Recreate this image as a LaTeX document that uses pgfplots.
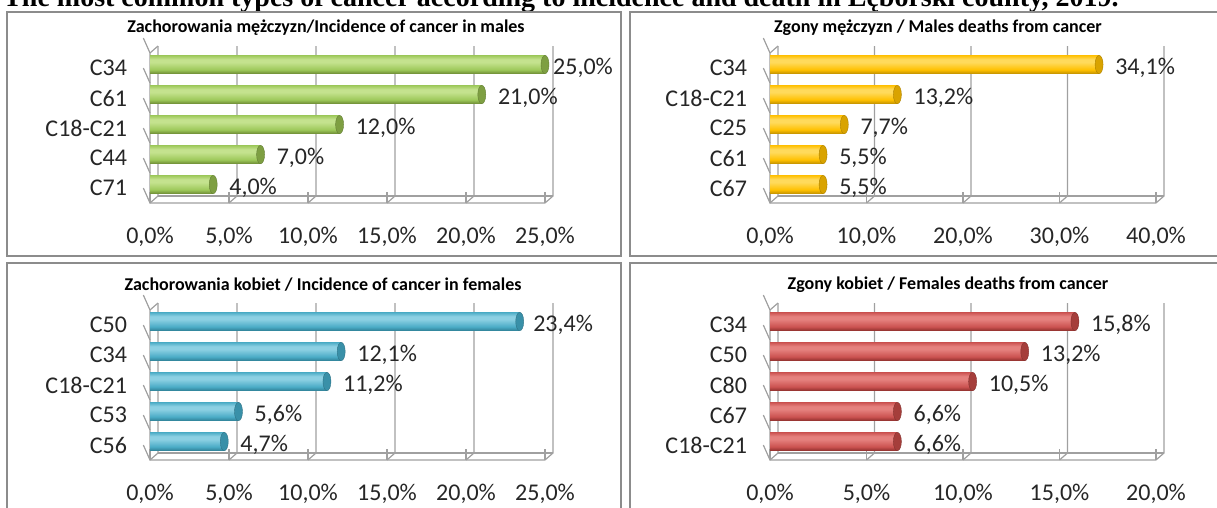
\documentclass[border=0pt]{standalone}
\usepackage{fontspec}
\setmainfont{Carlito}
\newfontfamily\titlefont{Liberation Serif}
\usepackage{pgfplots}
\pgfplotsset{compat=1.18}

\definecolor{gDark}{HTML}{6C8A34}
\definecolor{gBase}{HTML}{9DC85A}
\definecolor{gLight}{HTML}{C4E28E}
\definecolor{gCap}{HTML}{7E9F42}
\definecolor{yDark}{HTML}{C08F00}
\definecolor{yBase}{HTML}{FFC000}
\definecolor{yLight}{HTML}{FFDA5C}
\definecolor{yCap}{HTML}{D9A300}
\definecolor{bDark}{HTML}{2E7F95}
\definecolor{bBase}{HTML}{4BACC6}
\definecolor{bLight}{HTML}{8CD0E3}
\definecolor{bCap}{HTML}{3990A8}
\definecolor{rDark}{HTML}{8E2F2C}
\definecolor{rBase}{HTML}{CB5250}
\definecolor{rLight}{HTML}{E5817E}
\definecolor{rCap}{HTML}{A53E3B}
\definecolor{gridc}{HTML}{A0A0A0}
\definecolor{framec}{HTML}{8C8C8C}

\pgfdeclareverticalshading{cylG}{100bp}{color(0bp)=(gDark); color(25bp)=(gDark); color(36bp)=(gBase); color(56bp)=(gLight); color(64bp)=(gLight); color(75bp)=(gBase); color(100bp)=(gBase)}
\pgfdeclareverticalshading{cylY}{100bp}{color(0bp)=(yDark); color(25bp)=(yDark); color(36bp)=(yBase); color(56bp)=(yLight); color(64bp)=(yLight); color(75bp)=(yBase); color(100bp)=(yBase)}
\pgfdeclareverticalshading{cylB}{100bp}{color(0bp)=(bDark); color(25bp)=(bDark); color(36bp)=(bBase); color(56bp)=(bLight); color(64bp)=(bLight); color(75bp)=(bBase); color(100bp)=(bBase)}
\pgfdeclareverticalshading{cylR}{100bp}{color(0bp)=(rDark); color(25bp)=(rDark); color(36bp)=(rBase); color(56bp)=(rLight); color(64bp)=(rLight); color(75bp)=(rBase); color(100bp)=(rBase)}

\pgfdeclareplotmark{cap}{%
  \pgfpathellipse{\pgfqpoint{0pt}{2.6pt}}{\pgfqpoint{3pt}{0pt}}{\pgfqpoint{0pt}{6.9pt}}%
  \pgfusepathqfillstroke}

\newcommand\deco[2]{%
  \pgfplotsinvokeforeach{0,#2,...,#1}{%
    \draw[gridc,line width=0.9pt] (axis cs:##1,-0.5) -- ++(0,-3pt);
    \draw[gridc,line width=0.9pt] (axis cs:##1,-0.5) -- ([shift={(6pt,5.25pt)}]axis cs:##1,-0.5) -- ([shift={(6pt,5.25pt)}]axis cs:##1,4.5);
  }
  \draw[gridc,line width=0.9pt] ([shift={(6pt,5.25pt)}]axis cs:0,-0.5) -- ([shift={(6pt,5.25pt)}]axis cs:#1,-0.5);
  \draw[gridc,line width=0.9pt] ([shift={(6pt,5.25pt)}]axis cs:0,4.5) -- (axis cs:0,4.5) -- (axis cs:0,-0.5) -- (axis cs:#1,-0.5);
  \pgfplotsinvokeforeach{-0.5,0.5,...,4.5}{\draw[gridc,line width=0.9pt] (axis cs:0,##1) -- ++(-5pt,0);}
}

\pgfplotsset{
  panel/.style={
    scale only axis, height=112.5pt, anchor=south west, clip=false,
    xmin=0, ymin=-0.5, ymax=4.5, ytick={0,1,2,3,4},
    axis line style={draw=none}, tick style={draw=none}, major tick length=0pt,
    /pgf/number format/assume math mode=true,
    tick label style={font=\fontsize{18}{18}\selectfont, text=black!85},
    xticklabel={\pgfmathprintnumber[fixed,fixed zerofill,precision=1,use comma]{\tick}\%},
    xticklabel style={anchor=center, yshift=-25.5pt},
    yticklabel style={anchor=east, inner sep=0pt, xshift=-17pt},
  },
  bars/.style={xbar, bar width=13.9pt, bar shift=2.6pt, draw=none, shade, shading=#1},
  caps/.style={only marks, mark=cap, mark options={fill=#1, draw=#1!80!black, line width=0.3pt},
    point meta=x,
    visualization depends on={\thisrow{off} \as \off},
    nodes near coords={\pgfmathprintnumber[fixed,fixed zerofill,precision=1,use comma]{\pgfplotspointmeta}\%},
    every node near coord/.append style={anchor=west, inner sep=0pt, xshift=\off pt,
      font=\fontsize{18}{18}\selectfont, text=black!85}},
}

\begin{document}
\begin{tikzpicture}[x=0.75pt,y=0.75pt]
\useasboundingbox (0,0) rectangle (1217,507);
\clip (0,0) rectangle (1217,507);

% main title
\node[anchor=base west, inner sep=0pt, font=\titlefont\bfseries\fontsize{21}{21}\selectfont] at (3,500) {The most common types of cancer according to incidence and death in Lęborski county, 2019.};

% panel frames
\draw[framec, line width=1.8pt] (7,495) rectangle (621,251);
\draw[framec, line width=1.8pt] (630,495) rectangle (1230,251);
\draw[framec, line width=1.8pt] (7,244) rectangle (621,-20);
\draw[framec, line width=1.8pt] (630,244) rectangle (1230,-20);

% panel titles
\node[font=\bfseries\fontsize{13.5}{13.5}\selectfont] at (326,479) {Zachorowania mężczyzn/Incidence of cancer in males};
\node[font=\bfseries\fontsize{13.5}{13.5}\selectfont] at (938,479) {Zgony mężczyzn / Males deaths from cancer};
\node[font=\bfseries\fontsize{13.5}{13.5}\selectfont] at (323,222) {Zachorowania kobiet / Incidence of cancer in females};
\node[font=\bfseries\fontsize{13.5}{13.5}\selectfont] at (948,222) {Zgony kobiet / Females deaths from cancer};

% top-left
\begin{axis}[panel, at={(112.5pt,228pt)}, width=296.25pt, xmax=25, xtick={0,5,...,25},
  yticklabels={C71,C44,C18-C21,C61,C34}]
\deco{25}{5}
\addplot[bars=cylG] coordinates {(25.0,4)};
\addplot[bars=cylG] coordinates {(21.0,3)};
\addplot[bars=cylG] coordinates {(12.0,2)};
\addplot[bars=cylG] coordinates {(7.0,1)};
\addplot[bars=cylG] coordinates {(4.0,0)};
\addplot[caps=gCap] table[x=v,y=i] {
i v off
4 25.0 6
3 21.0 12
2 12.0 12
1 7.0 12
0 4.0 12
};
\end{axis}

% top-right
\begin{axis}[panel, at={(577.5pt,228pt)}, width=289.5pt, xmax=40, xtick={0,10,...,40},
  yticklabels={C67,C61,C25,C18-C21,C34}]
\deco{40}{10}
\addplot[bars=cylY] coordinates {(34.1,4)};
\addplot[bars=cylY] coordinates {(13.2,3)};
\addplot[bars=cylY] coordinates {(7.7,2)};
\addplot[bars=cylY] coordinates {(5.5,1)};
\addplot[bars=cylY] coordinates {(5.5,0)};
\addplot[caps=yCap] table[x=v,y=i] {
i v off
4 34.1 12
3 13.2 12
2 7.7 12
1 5.5 12
0 5.5 12
};
\end{axis}

% bottom-left
\begin{axis}[panel, at={(112.5pt,35.25pt)}, width=296.25pt, xmax=25, xtick={0,5,...,25},
  yticklabels={C56,C53,C18-C21,C34,C50}]
\deco{25}{5}
\addplot[bars=cylB] coordinates {(23.4,4)};
\addplot[bars=cylB] coordinates {(12.1,3)};
\addplot[bars=cylB] coordinates {(11.2,2)};
\addplot[bars=cylB] coordinates {(5.6,1)};
\addplot[bars=cylB] coordinates {(4.7,0)};
\addplot[caps=bCap] table[x=v,y=i] {
i v off
4 23.4 10
3 12.1 12
2 11.2 12
1 5.6 12
0 4.7 12
};
\end{axis}

% bottom-right
\begin{axis}[panel, at={(577.5pt,35.25pt)}, width=289.5pt, xmax=20, xtick={0,5,...,20},
  yticklabels={C18-C21,C67,C80,C50,C34}]
\deco{20}{5}
\addplot[bars=cylR] coordinates {(15.8,4)};
\addplot[bars=cylR] coordinates {(13.2,3)};
\addplot[bars=cylR] coordinates {(10.5,2)};
\addplot[bars=cylR] coordinates {(6.6,1)};
\addplot[bars=cylR] coordinates {(6.6,0)};
\addplot[caps=rCap] table[x=v,y=i] {
i v off
4 15.8 12
3 13.2 12
2 10.5 12
1 6.6 12
0 6.6 12
};
\end{axis}
\end{tikzpicture}
\end{document}
